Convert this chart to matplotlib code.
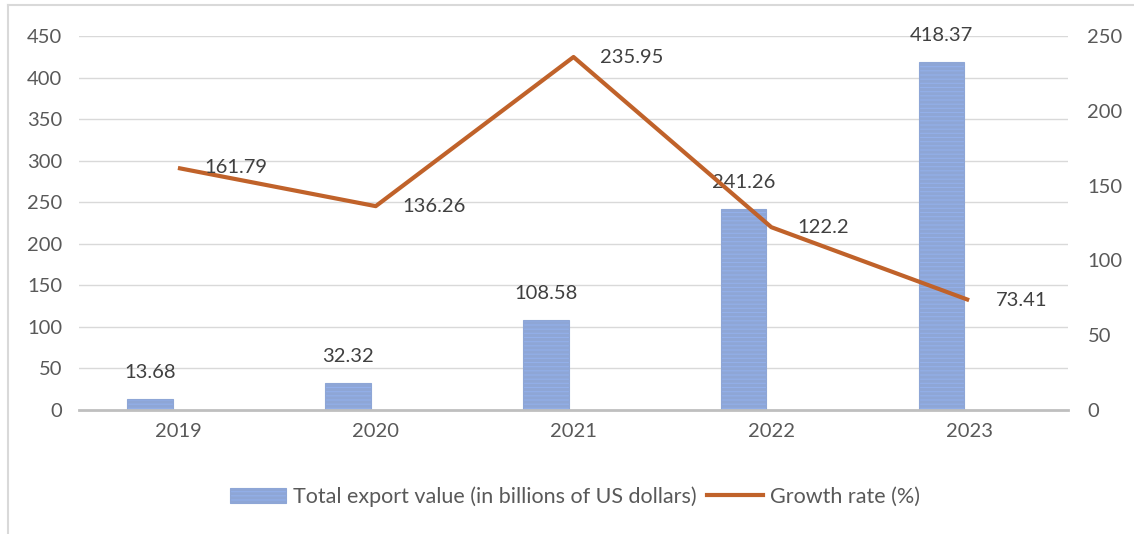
import matplotlib
matplotlib.use("Agg")
from matplotlib import pyplot as plt
from matplotlib.lines import Line2D

plt.rcParams['font.family'] = ['Lato', 'DejaVu Sans']
plt.rcParams['hatch.linewidth'] = 2.2
plt.rcParams['hatch.color'] = '#4472C4'

years = ['2019', '2020', '2021', '2022', '2023']
export_value = [13.68, 32.32, 108.58, 241.26, 418.37]
growth_rate = [161.79, 136.26, 235.95, 122.2, 73.41]

fig = plt.figure(figsize=(11.34, 5.34), dpi=100)
ax = fig.add_axes([0.0697, 0.2322, 0.8721, 0.7004])
ax2 = ax.twinx()

fs = 14.5
x = list(range(len(years)))
bar_x = [xi - 0.14 for xi in x]
ax.bar(bar_x, export_value, width=0.23, color='#93B0EA', edgecolor='#8EA6D6',
       hatch='----', linewidth=0.8, zorder=2,
       label='Total export value (in billions of US dollars)')
for xi, v in zip(bar_x, export_value):
    ax.annotate(f'{v:g}', (xi, v), xytext=(0, 13), textcoords='offset points',
                ha='center', va='bottom', fontsize=fs, color='#404040')

ax2.plot(x, growth_rate, color='#C0622A', linewidth=3, solid_capstyle='butt',
         label='Growth rate (%)')
for xi, v in zip(x, growth_rate):
    ax2.annotate(f'{v:g}', (xi, v), xytext=(19, 0), textcoords='offset points',
                 ha='left', va='center', fontsize=fs, color='#404040')

ax.set_xlim(-0.5, 4.5)
ax.set_ylim(0, 450)
ax.set_yticks(range(0, 451, 50))
ax2.set_ylim(0, 250)
ax2.set_yticks(range(0, 251, 50))
ax.set_xticks(x)
ax.set_xticklabels(years)

ax.grid(axis='y', color='#D9D9D9', linewidth=1, zorder=0)
ax.set_axisbelow(True)
for a in (ax, ax2):
    for s in a.spines.values():
        s.set_visible(False)
    a.tick_params(length=0, labelsize=fs, labelcolor='#595959')
ax.spines['bottom'].set_visible(True)
ax.spines['bottom'].set_color('#BFBFBF')
ax.spines['bottom'].set_linewidth(2)
ax.tick_params(axis='y', pad=12)
ax.tick_params(axis='x', pad=9)
ax2.tick_params(axis='y', pad=14)

handles = [plt.Rectangle((0, 0), 1, 1, facecolor='#93B0EA', edgecolor='#8EA6D6',
                         hatch='----', linewidth=0.8),
           Line2D([0], [0], color='#C0622A', linewidth=3)]
fig.legend(handles, ['Total export value (in billions of US dollars)', 'Growth rate (%)'],
           loc='center', bbox_to_anchor=(0.507, 0.07), ncol=2, frameon=False,
           fontsize=15.5, labelcolor='#595959', handlelength=2.6, handletextpad=0.3,
           columnspacing=0.5)

# chart frame
fig.add_artist(Line2D([8 / 1134, 8 / 1134], [0, 1 - 5 / 534], color='#D9D9D9',
                      linewidth=1.5, transform=fig.transFigure))
fig.add_artist(Line2D([8 / 1134, 1], [1 - 5 / 534, 1 - 5 / 534], color='#D9D9D9',
                      linewidth=1.5, transform=fig.transFigure))

fig.savefig('out.png', dpi=100)
